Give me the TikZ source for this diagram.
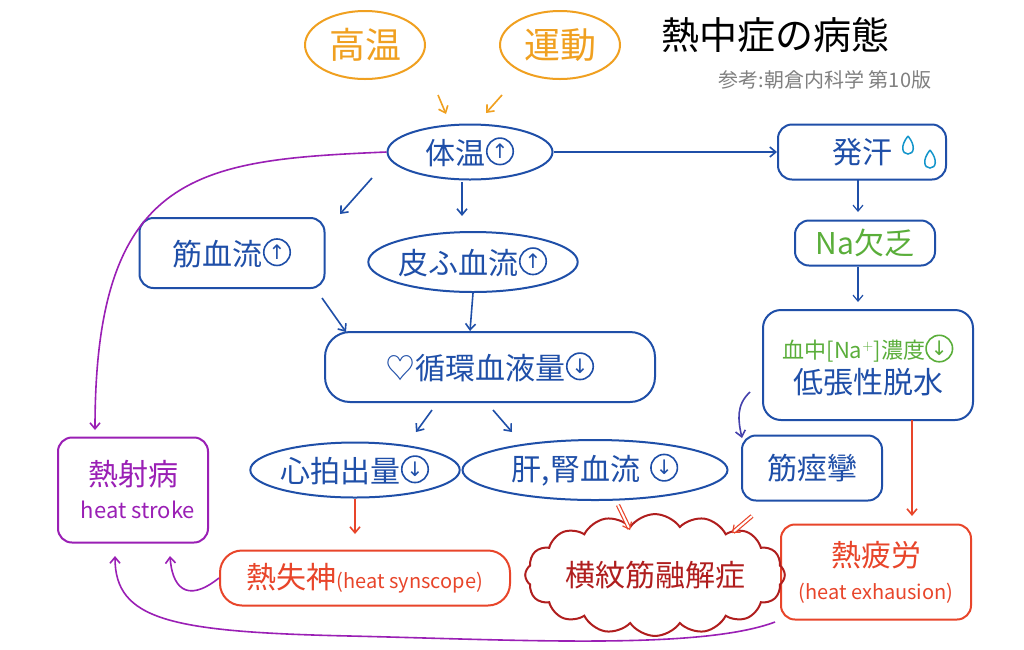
\documentclass[tikz,border=0pt]{standalone}
\usepackage{fontspec}
\setmainfont{Noto Sans CJK JP}
\newfontfamily\djvfont{DejaVu Sans}
\usetikzlibrary{shapes.geometric,shapes.symbols,arrows.meta}
\definecolor{cor}{HTML}{F0A020}
\definecolor{cbl}{HTML}{1F4FA8}
\definecolor{cgr}{HTML}{5AAE3A}
\definecolor{crd}{HTML}{E8452A}
\definecolor{cdr}{HTML}{B01E1E}
\definecolor{cpu}{HTML}{9A1FB5}
\newcommand\circar[1]{\tikz[baseline=-0.8ex]\node[circle,draw,line width=1.6pt,inner sep=1.5pt,minimum width=0pt,minimum height=0pt,font=\djvfont\fontsize{20}{22}\selectfont]{#1};}
\begin{document}
\begin{tikzpicture}[x=1pt,y=-1pt,
 bl/.style={draw=cbl,line width=2pt,text=cbl,font=\fontsize{30}{33}\selectfont,inner sep=2pt},
 ell/.style={bl,ellipse},
 box/.style={bl,rounded corners=14pt},
 rbox/.style={box,draw=crd,text=crd},
 pbox/.style={box,draw=cpu,text=cpu},
 ar/.style={-{Straight Barb[length=6pt,width=10pt]},line width=1.6pt,draw=cbl},
 dar/.style={-{Straight Barb[length=6pt,width=10pt]},double,double distance=2pt,line width=1.2pt,draw=crd}]
\useasboundingbox (0,0) rectangle (1024,649);
\fill[white] (0,0) rectangle (1024,649);
% top
\node[ell,draw=cor,text=cor,minimum width=120,minimum height=68,inner sep=0pt,font=\fontsize{36}{38}\selectfont] (ko) at (365,45) {高温};
\node[ell,draw=cor,text=cor,minimum width=120,minimum height=68,inner sep=0pt,font=\fontsize{36}{38}\selectfont] (un) at (560,45) {運動};
\node[font=\fontsize{38}{40}\selectfont] (ti) at (775,35) {熱中症の病態};
\node[text=gray,font=\fontsize{20}{22}\selectfont] (su) at (825,80) {参考:朝倉内科学 第10版};
% main chain
\node[ell,minimum width=165,minimum height=55,inner sep=0pt] (ta) at (470,152) {体温\circar{↑}};
\node[box,minimum width=168,minimum height=55] (ha) at (862,152) {発汗\hspace{45pt}};
\node[box,minimum width=140,minimum height=45,text=cgr] (na) at (865,243) {Na欠乏};
\node[box,minimum width=210,minimum height=110,align=center,rounded corners=18pt] (te) at (868,365)
 {{\color{cgr}\fontsize{22}{24}\selectfont 血中[Na$^{+}$]濃度\circar{↓}}\\[2pt]低張性脱水};
\node[box,minimum width=140,minimum height=65] (ke) at (812,468) {筋痙攣};
\node[rbox,minimum width=190,minimum height=95,align=center] (hx) at (876,572)
 {熱疲労\\{\fontsize{20}{22}\selectfont (heat exhausion)}};
\node[box,minimum width=185,minimum height=70] (kr) at (232,253) {筋血流\circar{↑}};
\node[ell,minimum width=190,minimum height=60,inner sep=0pt] (hi) at (473,262) {皮ふ血流\circar{↑}};
\node[box,minimum width=330,minimum height=70,rounded corners=25pt] (ju) at (490,367) {♡循環血液量\circar{↓}};
\node[ell,minimum width=185,minimum height=55,inner sep=0pt] (sh) at (355,470) {心拍出量\circar{↓}};
\node[ell,minimum width=265,minimum height=60,inner sep=0pt] (kj) at (595,470) {肝,腎血流\hspace{10pt}\circar{↓}};
\node[rbox,minimum width=290,minimum height=55,rounded corners=22pt,inner sep=4pt] (ss) at (365,578) {熱失神{\fontsize{20}{22}\selectfont (heat synscope)}};
\node[bl,cloud,cloud puffs=16,cloud puff arc=110,aspect=2.6,draw=cdr,text=cdr,minimum width=225,minimum height=90,inner sep=0pt,font=\fontsize{30}{32}\selectfont] (ob) at (655,575) {横紋筋融解症};
\node[pbox,minimum width=150,minimum height=105,align=center] (ns) at (133,490)
 {熱射病\\{\fontsize{22}{24}\selectfont\ \ heat stroke}};
% drops
\foreach \p in {(908,146),(930,160)}{
 \draw[cbl!60!cyan,line width=1.5pt,shift={\p}] (0,-10) .. controls (-8,0) and (-6,8) .. (0,8) .. controls (6,8) and (8,0) .. (0,-10);}
% arrows
\coordinate (o1) at (438,95); \coordinate (o2) at (502,95);
\draw[ar,draw=cor] (o1) -- (446,114);
\draw[ar,draw=cor] (o2) -- (486,113);
\draw[ar] (ta.east) -- (ha.west);
\draw[ar] (372,178) -- (340,214);
\draw[ar] (462,182) -- (462,216);
\draw[ar] (322,298) -- (346,332);
\draw[ar] (hi.south) -- (470,331);
\draw[ar] (432,410) -- (416,432);
\draw[ar] (493,410) -- (512,432);
\draw[ar,line width=1.2pt] (858,180) -- (858,212);
\draw[ar,line width=1.2pt] (858,267) -- (858,302);
\draw[ar,draw=crd] (sh.south) -- (355,534);
\draw[dar] (618,505) -- (630,530);
\draw[dar] (752,516) -- (732,533);
\draw[ar,draw=cbl!70!cpu] (750,392) .. controls (736,405) and (738,420) .. (742,438);
\draw[ar,draw=crd] (912,420) -- (912,516);
\draw[ar,draw=cpu] (ta.west) .. controls (200,160) and (95,170) .. (95,430);
\draw[ar,draw=cpu] (ss.west) .. controls (185,605) and (172,585) .. (170,556);
\draw[ar,draw=cpu] (775,622) .. controls (700,650) and (520,640) .. (350,636) .. controls (170,632) and (115,620) .. (115,556);
\end{tikzpicture}
\end{document}
